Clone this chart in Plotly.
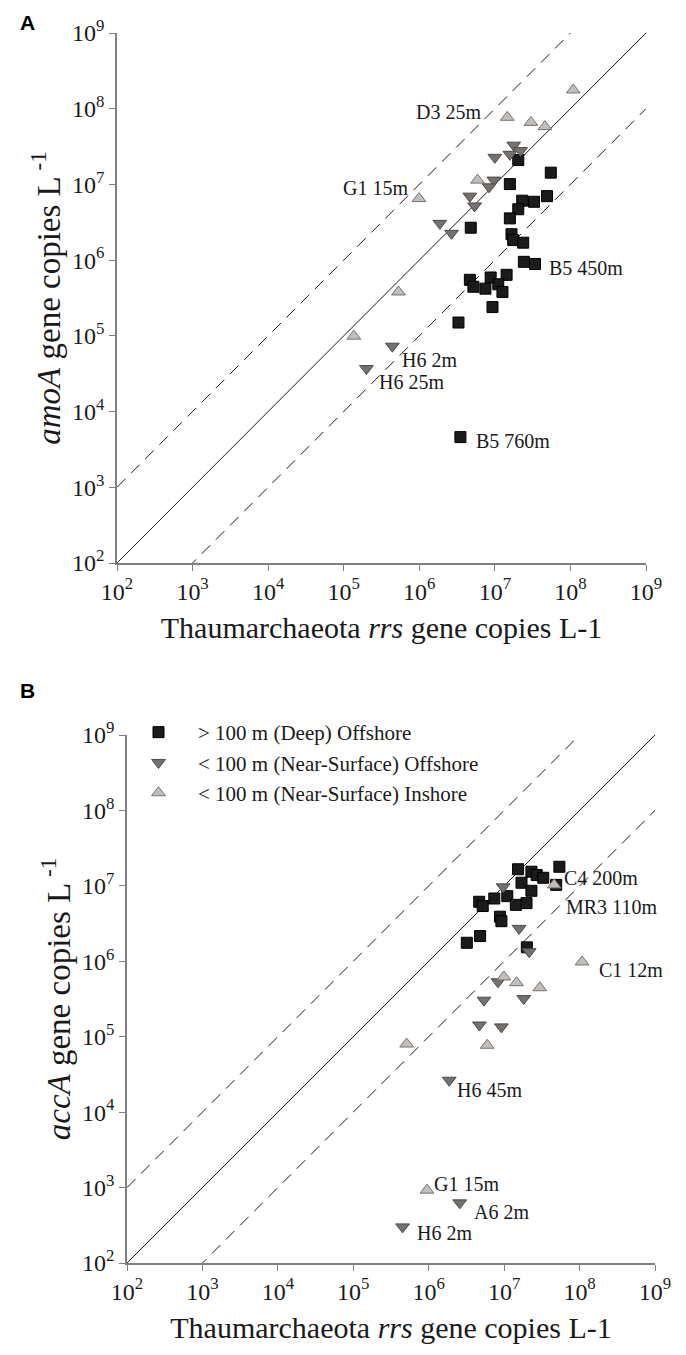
import plotly.graph_objects as go

# the page body adds an 8 px margin, so the figure is drawn 8 px smaller/shifted
OFF = 8
W, H = 686 - OFF, 1355 - OFF


def fx(px):
    return (px - OFF) / W


def fy(py):
    return 1 - (py - OFF) / H


decades = [2, 3, 4, 5, 6, 7, 8, 9]
tick_text = [f"10<sup>{d}</sup>" for d in decades]

# ---- panel A: amoA vs rrs ----
a_deep_x = [2.04e7, 5.5e7, 1.58e7, 2.3e7, 3.3e7, 4.9e7, 2.04e7, 1.58e7, 4.8e6, 1.66e7, 1.75e7, 2.37e7,
            2.42e7, 3.4e7, 4.67e6, 5.2e6, 8.8e6, 7.5e6, 1.43e7, 1.11e7, 1.26e7, 9.3e6, 3.3e6, 3.5e6]
a_deep_y = [2.1e7, 1.43e7, 1.01e7, 6.1e6, 5.9e6, 7.0e6, 4.7e6, 3.56e6, 2.68e6, 2.2e6, 1.84e6, 1.7e6,
            9.5e5, 8.9e5, 5.5e5, 4.45e5, 5.9e5, 4.2e5, 6.4e5, 4.8e5, 3.8e5, 2.4e5, 1.5e5, 4.6e3]
a_off_x = [1.78e7, 1.58e7, 2.19e7, 1.0e7, 9.7e6, 8.4e6, 4.67e6, 5.4e6, 1.87e6, 2.67e6, 4.4e5, 2.0e5]
a_off_y = [3.3e7, 2.5e7, 2.8e7, 2.28e7, 1.14e7, 9.3e6, 7.0e6, 5.2e6, 3.06e6, 2.26e6, 7.3e4, 3.7e4]
a_in_x = [1.09e8, 1.46e7, 3.0e7, 4.6e7, 5.9e6, 9.9e5, 5.3e5, 1.36e5]
a_in_y = [1.77e8, 7.7e7, 6.6e7, 5.8e7, 1.14e7, 6.5e6, 3.8e5, 9.9e4]

a_lab_text = ["D3 25m", "G1 15m", "B5 450m", "H6 2m", "H6 25m", "B5 760m"]
a_lab_x = [6.84, 5.88, 7.69, 5.74, 5.44, 6.72]
a_lab_y = [7.96, 6.95, 5.90, 4.68, 4.39, 3.61]
a_lab_anchor = ["right", "right", "left", "left", "left", "left"]

# ---- panel B: accA vs rrs ----
b_deep_x = [1.53e7, 2.3e7, 5.4e7, 2.7e7, 3.3e7, 4.9e7, 1.7e7, 2.3e7, 4.67e6, 5.2e6, 7.4e6, 1.1e7,
            1.43e7, 1.98e7, 8.8e6, 9.2e6, 3.2e6, 4.8e6, 2.0e7]
b_deep_y = [1.66e7, 1.54e7, 1.79e7, 1.39e7, 1.28e7, 1.03e7, 1.1e7, 8.6e6, 6.15e6, 5.4e6, 6.8e6, 7.3e6,
            5.6e6, 5.9e6, 3.9e6, 3.4e6, 1.76e6, 2.16e6, 1.53e6]
b_off_x = [9.7e6, 1.58e7, 2.15e7, 8.3e6, 5.4e6, 1.82e7, 4.7e6, 9.2e6, 1.87e6, 2.58e6, 4.5e5]
b_off_y = [9.7e6, 2.73e6, 1.34e6, 5.35e5, 3.05e5, 3.2e5, 1.43e5, 1.35e5, 2.65e4, 627, 301]
b_in_x = [4.6e7, 9.9e6, 1.46e7, 2.97e7, 1.08e8, 5.96e6, 5.1e5, 9.5e5]
b_in_y = [1.03e7, 6.2e5, 5.2e5, 4.46e5, 9.8e5, 7.7e4, 8.0e4, 925]

b_lab_text = ["C4 200m", "MR3 110m", "C1 12m", "H6 45m", "G1 15m", "A6 2m", "H6 2m"]
b_lab_x = [7.77, 7.79, 8.23, 6.35, 6.05, 6.57, 5.82]
b_lab_y = [7.10, 6.72, 5.88, 4.29, 3.05, 2.67, 2.40]

series_names = ["> 100 m (Deep) Offshore",
                "< 100 m (Near-Surface) Offshore",
                "< 100 m (Near-Surface) Inshore"]

SERIF = "Liberation Serif, Times New Roman, serif"

styles = [
    dict(symbol="square", size=11, color="#1b1b1b", line=dict(color="#000000", width=1)),
    dict(symbol="triangle-down", size=12, color="#75716e", line=dict(color="#4e4a47", width=1)),
    dict(symbol="triangle-up", size=12, color="#c2bebb", line=dict(color="#77736f", width=1)),
]

fig = go.Figure()

# 1:1 and 10-fold lines from the axis decades
lo, hi = 10 ** decades[0], 10 ** decades[-1]
ref_x = [lo, hi]
for xa, ya in [("x", "y"), ("x2", "y2")]:
    fig.add_trace(go.Scatter(x=ref_x, y=ref_x, mode="lines", xaxis=xa, yaxis=ya,
                             line=dict(color="#1a1a1a", width=1), showlegend=False, hoverinfo="skip"))
    fig.add_trace(go.Scatter(x=ref_x, y=[v * 10 for v in ref_x], mode="lines", xaxis=xa, yaxis=ya,
                             line=dict(color="#1a1a1a", width=1, dash="12px,8px"),
                             showlegend=False, hoverinfo="skip"))
    fig.add_trace(go.Scatter(x=ref_x, y=[v / 10 for v in ref_x], mode="lines", xaxis=xa, yaxis=ya,
                             line=dict(color="#1a1a1a", width=1, dash="12px,8px"),
                             showlegend=False, hoverinfo="skip"))

panel_a = [(a_deep_x, a_deep_y), (a_off_x, a_off_y), (a_in_x, a_in_y)]
panel_b = [(b_deep_x, b_deep_y), (b_off_x, b_off_y), (b_in_x, b_in_y)]

for i, (xs, ys) in enumerate(panel_a):
    fig.add_trace(go.Scatter(x=xs, y=ys, mode="markers", name=series_names[i], marker=styles[i],
                             xaxis="x", yaxis="y", showlegend=False))
for i, (xs, ys) in enumerate(panel_b):
    fig.add_trace(go.Scatter(x=xs, y=ys, mode="markers", name=series_names[i], marker=styles[i],
                             xaxis="x2", yaxis="y2", showlegend=True))

axis_common = dict(
    type="log", range=[decades[0], decades[-1]],
    tickvals=[10 ** d for d in decades], ticktext=tick_text,
    showline=True, linecolor="#808080", linewidth=1.5,
    ticks="outside", ticklen=6, tickcolor="#808080", tickwidth=1.2,
    showgrid=False, zeroline=False, automargin=False,
    tickfont=dict(family=SERIF, size=24, color="#1a1a1a"),
)

xtitle = "Thaumarchaeota <i>rrs</i> gene copies L-1"
xt_font = dict(family=SERIF, size=30, color="#1a1a1a")
yt_font = dict(family=SERIF, size=33, color="#1a1a1a")

fig.update_layout(
    width=W, height=H,
    margin=dict(l=0, r=0, t=0, b=0),
    paper_bgcolor="white", plot_bgcolor="white",
    xaxis=dict(axis_common, domain=[fx(117), fx(646)], anchor="y",
               title=dict(text=xtitle, font=xt_font, standoff=13)),
    yaxis=dict(axis_common, domain=[fy(563), fy(33)], anchor="x",
               title=dict(text="<i>amoA</i> gene copies L<sup> -1</sup>", font=yt_font, standoff=2)),
    xaxis2=dict(axis_common, domain=[fx(127), fx(655)], anchor="y2",
                title=dict(text=xtitle, font=xt_font, standoff=13)),
    yaxis2=dict(axis_common, domain=[fy(1263), fy(735)], anchor="x2",
                title=dict(text="<i>accA</i> gene copies L<sup> -1</sup>", font=yt_font, standoff=2)),
    legend=dict(x=fx(119), y=fy(712), xanchor="left", yanchor="top",
                bgcolor="rgba(0,0,0,0)", font=dict(family=SERIF, size=21, color="#1a1a1a"),
                itemwidth=69, tracegroupgap=0),
    showlegend=True,
)

ann = []
for t, x, y, anc in zip(a_lab_text, a_lab_x, a_lab_y, a_lab_anchor):
    ann.append(dict(text=t, x=x, y=y, xref="x", yref="y", xanchor=anc, yanchor="middle",
                    showarrow=False, font=dict(family=SERIF, size=20, color="#1a1a1a")))
for t, x, y in zip(b_lab_text, b_lab_x, b_lab_y):
    ann.append(dict(text=t, x=x, y=y, xref="x2", yref="y2", xanchor="left", yanchor="middle",
                    showarrow=False, font=dict(family=SERIF, size=20, color="#1a1a1a")))
for t, py in [("A", 22), ("B", 690)]:
    ann.append(dict(text=f"<b>{t}</b>", x=fx(27), y=fy(py), xref="paper", yref="paper",
                    xanchor="center", yanchor="middle", showarrow=False,
                    font=dict(family="Liberation Sans, Arial, sans-serif", size=21, color="black")))
fig.update_layout(annotations=ann)

fig.write_html("out.html")
